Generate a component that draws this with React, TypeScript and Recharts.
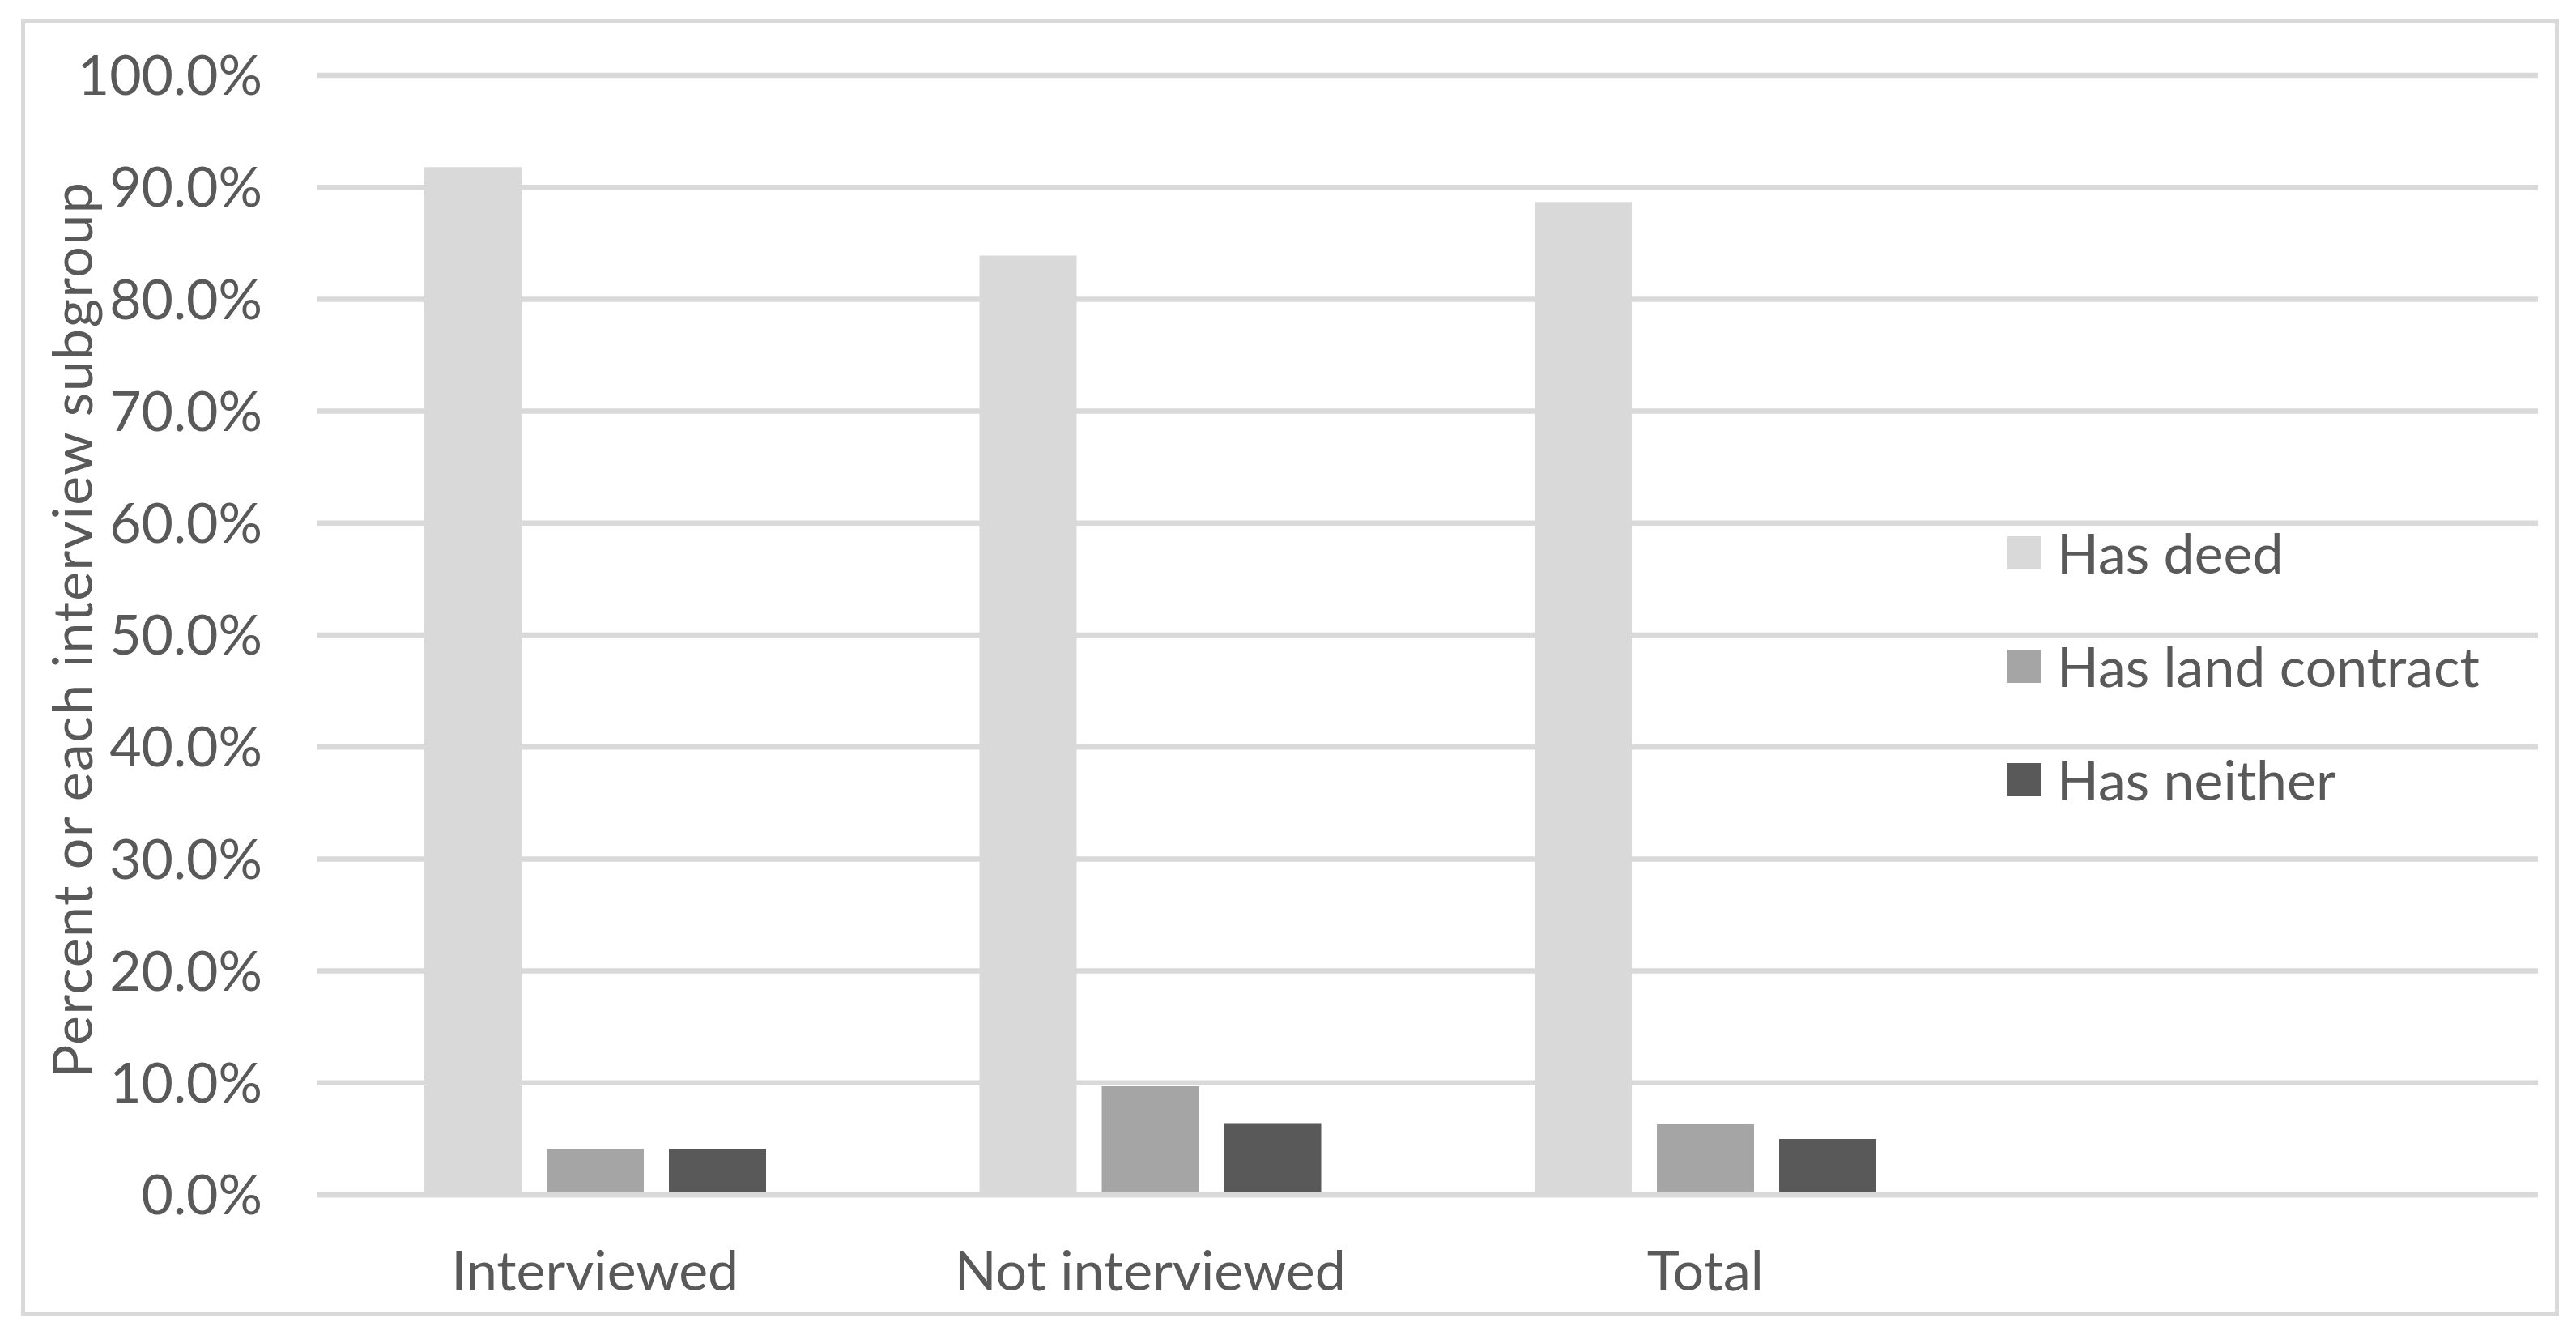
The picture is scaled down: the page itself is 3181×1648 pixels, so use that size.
import { BarChart, Bar, XAxis, YAxis, CartesianGrid, Legend } from "recharts";

// category slots (the 4th slot is empty in the source chart, the legend sits there)
const categories = ["Interviewed", "Not interviewed", "Total", ""];
const hasDeed = [91.8, 83.9, 88.7];
const hasLandContract = [4.1, 9.7, 6.3];
const hasNeither = [4.1, 6.4, 5.0];
const yTicks = [0, 10, 20, 30, 40, 50, 60, 70, 80, 90, 100];

const data = categories.map((name, i) => ({
  name,
  deed: hasDeed[i],
  land: hasLandContract[i],
  neither: hasNeither[i],
}));

const FONT = "Lato, 'Open Sans', sans-serif";
const TEXT = "#595959";
const GRID = "#d9d9d9";
const FS = 68;

const renderLegend = (props: any) => (
  <div style={{ display: "flex", flexDirection: "column", gap: 72 }}>
    {props.payload.map((entry: any) => (
      <div
        key={entry.value}
        style={{ display: "flex", alignItems: "center", height: 68 }}
      >
        <span
          style={{
            display: "inline-block",
            width: 42,
            height: 41,
            background: entry.color,
            marginRight: 20,
          }}
        />
        <span
          style={{
            fontFamily: FONT,
            fontSize: FS,
            lineHeight: "68px",
            color: TEXT,
            whiteSpace: "nowrap",
          }}
        >
          {entry.value}
        </span>
      </div>
    ))}
  </div>
);

const YTitle = (props: any) => {
  const vb = props.viewBox;
  const x = vb.x + 114;
  const y = vb.y + vb.height / 2 - 7;
  return (
    <text
      x={x}
      y={y}
      transform={`rotate(-90 ${x} ${y})`}
      textAnchor="middle"
      fill={TEXT}
      fontFamily={FONT}
      fontSize={FS}
      letterSpacing={1.5}
    >
      Percent or each interview subgroup
    </text>
  );
};

export default function App() {
  return (
    <div
      style={{
        position: "absolute",
        left: 0,
        top: 0,
        width: 3181,
        height: 1648,
        background: "#fff",
      }}
    >
      <div
        style={{
          position: "absolute",
          left: 26,
          top: 24,
          width: 3134,
          height: 1600,
          border: `5px solid ${GRID}`,
          boxSizing: "border-box",
        }}
      />
      <BarChart
        width={3181}
        height={1648}
        data={data}
        margin={{ top: 93, right: 47, bottom: 73, left: 0 }}
        barSize={120}
        barGap={31}
      >
        <CartesianGrid vertical={false} stroke={GRID} strokeWidth={6.5} />
        <YAxis
          width={392}
          domain={[0, 100]}
          ticks={yTicks}
          interval={0}
          axisLine={false}
          tickLine={false}
          tickSize={0}
          tickMargin={68}
          tickFormatter={(v: number) => `${v.toFixed(1)}%`}
          tick={{ fill: TEXT, fontSize: FS, fontFamily: FONT }}
          label={{ content: YTitle }}
        />
        <Bar dataKey="deed" name="Has deed" fill="#d9d9d9" isAnimationActive={false} />
        <Bar dataKey="land" name="Has land contract" fill="#a5a5a5" isAnimationActive={false} />
        <Bar dataKey="neither" name="Has neither" fill="#595959" isAnimationActive={false} />
        <XAxis
          dataKey="name"
          height={100}
          interval={0}
          axisLine={{ stroke: GRID, strokeWidth: 6.5 }}
          tickLine={false}
          tickSize={0}
          tickMargin={70}
          tick={{ fill: TEXT, fontSize: FS, fontFamily: FONT }}
        />
        <Legend
          layout="vertical"
          align="center"
          verticalAlign="middle"
          content={renderLegend}
          wrapperStyle={{ left: 2478, top: 648, width: 680, height: "auto" }}
        />
      </BarChart>
    </div>
  );
}
